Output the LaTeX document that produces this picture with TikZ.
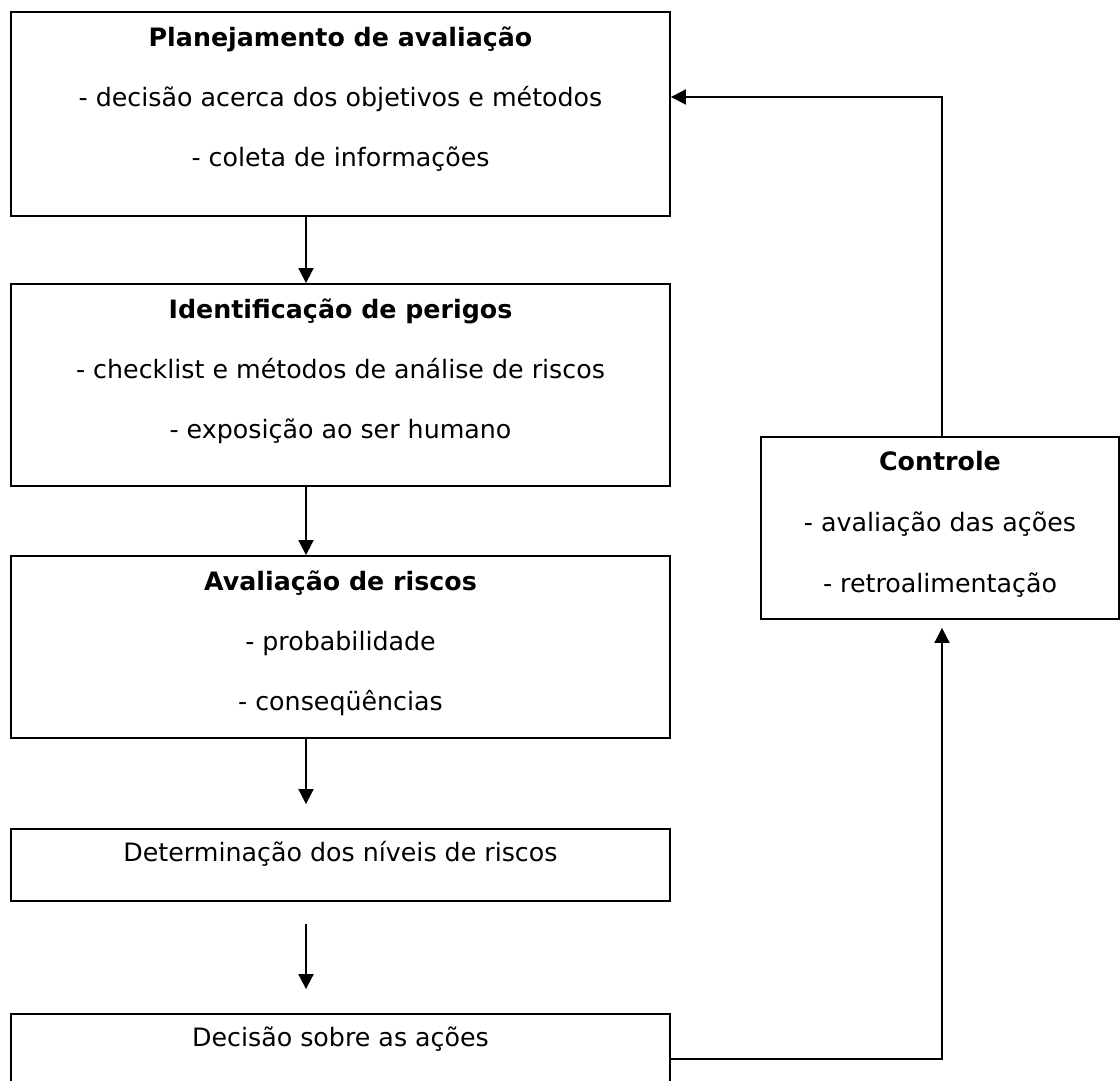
\documentclass[tikz,border=0pt]{standalone}
\usepackage{fontspec}
\setmainfont{DejaVu Sans}
\usetikzlibrary{arrows.meta,calc}
\begin{document}
\begin{tikzpicture}[x=1pt,y=-1pt,
  box/.style={draw=black,line width=1.8pt,rectangle,inner sep=0pt,minimum width=659pt},
  head/.style={font=\fontsize{25.3}{29}\selectfont\bfseries,inner sep=0pt,anchor=base},
  item/.style={font=\fontsize{25.3}{29}\selectfont,inner sep=0pt,anchor=base},
  arr/.style={line width=1.8pt,-{Triangle[length=15pt,width=15pt]}}]
\useasboundingbox (0,0) rectangle (1120,1081);
\clip (0,0) rectangle (1120,1081);

% main column of boxes
\node[box,minimum height=204pt] (plan)  at (340.5,114) {};
\node[box,minimum height=202pt] (ident) at (340.5,385) {};
\node[box,minimum height=182pt] (aval)  at (340.5,647) {};
\node[box,minimum height=72pt]  (nivel) at (340.5,865) {};
\node[box,minimum height=80pt]  (decis) at (340.5,1054) {};
% control box on the right
\node[box,minimum width=358pt,minimum height=182pt] (ctrl) at (940,528) {};

% texts
\node[head] (planT) at ($(plan.north)+(0,35)$) {Planejamento de avaliação};
\node[item] (planA) at ($(plan.north)+(0,95)$) {- decisão acerca dos objetivos e métodos};
\node[item] (planB) at ($(plan.north)+(0,155)$) {- coleta de informações};

\node[head] (identT) at ($(ident.north)+(0,35)$) {Identificação de perigos};
\node[item] (identA) at ($(ident.north)+(0,95)$) {- checklist e métodos de análise de riscos};
\node[item] (identB) at ($(ident.north)+(0,155)$) {- exposição ao ser humano};

\node[head] (avalT) at ($(aval.north)+(0,35)$) {Avaliação de riscos};
\node[item] (avalA) at ($(aval.north)+(0,95)$) {- probabilidade};
\node[item] (avalB) at ($(aval.north)+(0,155)$) {- conseqüências};

\node[item] (nivelT) at ($(nivel.north)+(0,33)$) {Determinação dos níveis de riscos};
\node[item] (decisT) at ($(decis.north)+(0,33)$) {Decisão sobre as ações};

\node[head] (ctrlT) at ($(ctrl.north)+(0,34)$) {Controle};
\node[item] (ctrlA) at ($(ctrl.north)+(0,95)$) {- avaliação das ações};
\node[item] (ctrlB) at ($(ctrl.north)+(0,156)$) {- retroalimentação};

% connectors
\coordinate (ax) at (306,0);
\coordinate (fbB) at (942,1059);
\coordinate (fbT) at (942,97);
\draw[arr] (plan.south -| ax) -- (ident.north -| ax);
\draw[arr] (ident.south -| ax) -- (aval.north -| ax);
\draw[arr,shorten >=24pt] (aval.south -| ax) -- (nivel.north -| ax);
\draw[arr,shorten <=22pt,shorten >=24pt] (nivel.south -| ax) -- (decis.north -| ax);
\draw[arr,shorten >=8pt] (decis.east |- fbB) -- (fbB) -- (ctrl.south -| fbB);
\draw[arr] (ctrl.north -| fbT) -- (fbT) -- (plan.east |- fbT);
\end{tikzpicture}
\end{document}
